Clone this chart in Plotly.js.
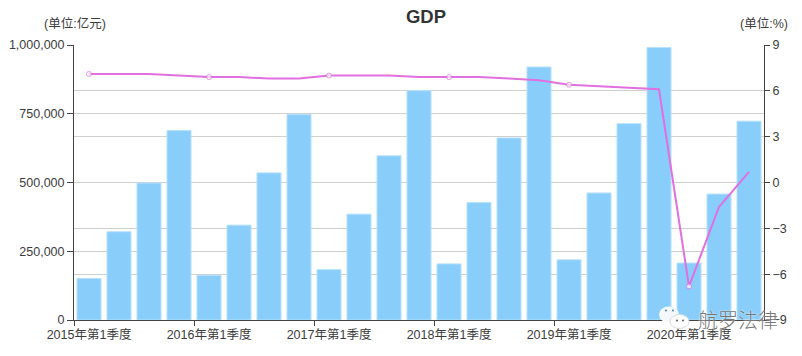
<!DOCTYPE html>
<html><head><meta charset="utf-8">
<script src="https://cdn.plot.ly/plotly-3.0.1.min.js"></script>
<style>html,body{margin:0;padding:0;background:#fff}#c{width:802px;height:356px}</style></head>
<body><div id="c"></div>
<script>
const quarters = ["2015年第1季度","2015年第2季度","2015年第3季度","2015年第4季度",
"2016年第1季度","2016年第2季度","2016年第3季度","2016年第4季度",
"2017年第1季度","2017年第2季度","2017年第3季度","2017年第4季度",
"2018年第1季度","2018年第2季度","2018年第3季度","2018年第4季度",
"2019年第1季度","2019年第2季度","2019年第3季度","2019年第4季度",
"2020年第1季度","2020年第2季度","2020年第3季度"];
const gdpValues = [151000,321000,498000,689000,162500,345000,535000,747000,183000,385000,597000,834000,204000,427000,662000,920000,219000,462000,714000,991000,207000,458000,723000];
const growthValues = [7.1,7.1,7.1,7.0,6.9,6.9,6.8,6.8,7.0,7.0,7.0,6.9,6.9,6.9,6.8,6.7,6.4,6.3,6.2,6.1,-6.8,-1.6,0.7];
const leftTicks = [0,250000,500000,750000,1000000];
const rightTicks = [-9,-6,-3,0,3,6,9];
const F = '"Liberation Sans","Noto Sans CJK SC",sans-serif';
const AXIS = '#444';
const TXT = '#3c3c3c';
const px = v => (v-74)/690, py = v => (320.5-v)/275.5;
const circle = (x0,x1,y0,y1,fill,stroke) => ({type:'circle',xref:'paper',yref:'paper',x0:px(x0),x1:px(x1),y0:py(y0),y1:py(y1),fillcolor:fill,line:{width:stroke?1:0,color:stroke||fill}});
const data = [
 {type:'bar',x:quarters,y:gdpValues,yaxis:'y',
  marker:{color:'#89cefb',line:{color:'#b6e0fd',width:1}},hoverinfo:'x+y'},
 {type:'scatter',mode:'lines+markers',x:quarters,y:growthValues,yaxis:'y2',
  line:{color:'#e06fdf',width:2},
  marker:{size:quarters.map((q,i)=>i%4===0?5:0),color:'#fff',line:{color:'#e06fdf',width:1}},hoverinfo:'x+y'}
];
const layout = {
 width:802,height:356,paper_bgcolor:'#fff',plot_bgcolor:'#fff',showlegend:false,
 margin:{l:74,r:38,t:45,b:35.5},bargap:0.2,
 font:{family:F,size:12.5,color:TXT},
 title:{text:'<b>GDP</b>',font:{family:F,size:18.5,color:'#333'},x:426/802,xanchor:'center',y:1-17/356,yanchor:'middle'},
 xaxis:{type:'category',categoryorder:'array',categoryarray:quarters,range:[-0.5,22.5],
  tickmode:'array',tickvals:quarters.filter((q,i)=>i%4===0),ticktext:quarters.filter((q,i)=>i%4===0),
  ticks:'',ticklabelstandoff:3,
  minor:{tickmode:'array',tickvals:quarters.map((q,i)=>i-0.5).filter((v,i)=>i%4===0),ticks:'outside',ticklen:5,tickcolor:AXIS,showgrid:false},
  showline:true,linecolor:AXIS,linewidth:1,showgrid:false,tickangle:0,tickfont:{size:12.5,color:TXT}},
 yaxis:{range:[0,1000000],tickmode:'array',tickvals:leftTicks,ticktext:leftTicks.map(v=>v.toLocaleString('en-US')),
  ticks:'outside',ticklen:6,tickcolor:AXIS,showline:true,linecolor:AXIS,linewidth:1,
  gridcolor:'#cfcfcf',gridwidth:1,zeroline:false,tickfont:{size:12.5,color:TXT}},
 yaxis2:{overlaying:'y',side:'right',range:[-9,9],tickmode:'array',tickvals:rightTicks,
  ticks:'outside',ticklen:5,tickcolor:AXIS,showline:true,linecolor:AXIS,linewidth:1,
  showgrid:true,gridcolor:'#cfcfcf',gridwidth:1,zeroline:false,tickfont:{size:12.5,color:TXT}},
 annotations:[
  {xref:'paper',yref:'paper',x:px(42),xanchor:'left',y:py(23),yanchor:'middle',text:'(单位:亿元)',showarrow:false,font:{size:12.5,color:TXT}},
  {xref:'paper',yref:'paper',x:px(738),xanchor:'left',y:py(23),yanchor:'middle',text:'(单位:%)',showarrow:false,font:{size:12.5,color:TXT}},
  {xref:'paper',yref:'paper',x:px(696),xanchor:'left',y:py(320),yanchor:'middle',text:'航罗法律',showarrow:false,
   font:{family:'"Noto Sans CJK SC",sans-serif',size:20,weight:300,color:'#777',shadow:'0 0 2px #fff'}}
 ],
 shapes:[
  circle(659,679,307,323,'#f4f8fb'),
  circle(670,689,315,329,'#ffffff','#d8d8d8'),
  circle(665,667,310,312,'#4a7fa8'),
  circle(672,674,310,312,'#4a7fa8'),
  circle(676,678,320,322,'#555555'),
  circle(682,684,320,322,'#555555')
 ]
};
Plotly.newPlot('c',data,layout,{displayModeBar:false,staticPlot:true});
</script></body></html>
